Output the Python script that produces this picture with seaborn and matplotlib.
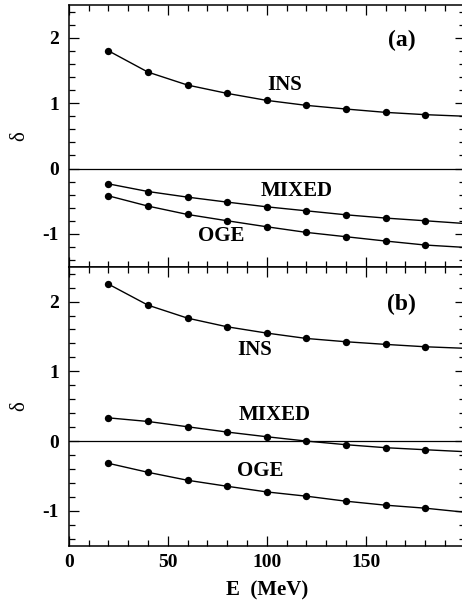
import numpy as np
import pandas as pd
import matplotlib
matplotlib.use("Agg")
import matplotlib.pyplot as plt
import seaborn as sns
from matplotlib.ticker import MultipleLocator, FixedLocator

# ---- data ----
E_pts = [20, 40, 60, 80, 100, 120, 140, 160, 180]
E_line = [20, 40, 60, 80, 100, 120, 140, 160, 180, 200]

a_ins = [1.80, 1.474, 1.276, 1.149, 1.042, 0.966, 0.910, 0.859, 0.824, 0.80]
a_mixed = [-0.234, -0.351, -0.437, -0.513, -0.585, -0.646, -0.707, -0.757, -0.798, -0.84]
a_oge = [-0.417, -0.574, -0.702, -0.798, -0.890, -0.976, -1.042, -1.108, -1.169, -1.205]

b_ins = [2.25, 1.948, 1.762, 1.638, 1.548, 1.471, 1.424, 1.386, 1.352, 1.33]
b_mixed = [0.333, 0.281, 0.205, 0.129, 0.062, 0.0, -0.052, -0.095, -0.124, -0.152]
b_oge = [-0.319, -0.448, -0.562, -0.648, -0.729, -0.790, -0.862, -0.919, -0.962, -1.02]

x_ticks = [0, 50, 100, 150]
y_ticks = [-1, 0, 1, 2]
panel_tags = ["(a)", "(b)"]
series_names = ["INS", "MIXED", "OGE"]

sns.set_style("ticks")
plt.rcParams["font.family"] = ["Liberation Serif", "DejaVu Serif"]
plt.rcParams.update({"text.color": "black", "axes.labelcolor": "black",
                     "xtick.color": "black", "ytick.color": "black",
                     "axes.edgecolor": "black"})

fig = plt.figure(figsize=(4.62, 6.05), dpi=100)
left, right = 0.149, 1.006
bot, mid, top = 0.098, 0.5592, 0.9917
ax_a = fig.add_axes([left, mid, right - left, top - mid])
ax_b = fig.add_axes([left, bot, right - left, mid - bot])

panels = [
    (ax_a, [a_ins, a_mixed, a_oge]),
    (ax_b, [b_ins, b_mixed, b_oge]),
]

# label anchor positions: (E value, delta value)
label_pos = {
    0: [(109, 1.28), (115, -0.35), (77, -1.03)],
    1: [(94, 1.31), (104, 0.37), (96.5, -0.43)],
}

for i, (ax, series) in enumerate(panels):
    ax.axhline(0, color="black", lw=0.9, zorder=1)
    for name, vals in zip(series_names, series):
        df_line = pd.DataFrame({"E": E_line, "d": vals})
        df_pts = pd.DataFrame({"E": E_pts, "d": vals[:len(E_pts)]})
        sns.lineplot(data=df_line, x="E", y="d", ax=ax, color="black",
                     lw=1.0, zorder=2)
        sns.scatterplot(data=df_pts, x="E", y="d", ax=ax, color="black",
                        s=28, edgecolor="black", linewidth=0, zorder=3)
    ax.set_xlim(0, 200)
    ax.set_ylim(-1.5, 2.5)
    ax.xaxis.set_major_locator(FixedLocator(x_ticks))
    ax.xaxis.set_minor_locator(MultipleLocator(10))
    ax.yaxis.set_major_locator(FixedLocator(y_ticks))
    ax.yaxis.set_minor_locator(MultipleLocator(0.2))
    ax.tick_params(which="both", direction="in", top=True, right=True,
                   width=0.9, colors="black")
    ax.tick_params(which="major", length=7)
    ax.tick_params(which="minor", length=4)
    for sp in ax.spines.values():
        sp.set_visible(True)
        sp.set_linewidth(1.1)
        sp.set_color("black")
    ax.set_ylabel("δ", fontsize=15, labelpad=10, color="black")
    ax.set_xlabel("")
    ax.set_yticklabels([str(t) for t in y_ticks], fontsize=14, fontweight="bold")
    ax.tick_params(axis="y", pad=7)
    ax.text(0.84, 0.866, panel_tags[i],
            transform=ax.transAxes, ha="center", va="center",
            fontsize=17, fontweight="bold", color="black")
    for name, (ex, val) in zip(series_names, label_pos[i]):
        ax.text(ex, val, name, ha="center", va="center",
                fontsize=15, fontweight="bold", color="black")

ax_a.set_xticklabels([])
ax_b.set_xticklabels([str(t) for t in x_ticks], fontsize=14, fontweight="bold")
ax_b.tick_params(axis="x", pad=6)
ax_b.set_xlabel("E  (MeV)", fontsize=15, fontweight="bold", labelpad=7,
                color="black")

fig.savefig("out.png", dpi=100)
